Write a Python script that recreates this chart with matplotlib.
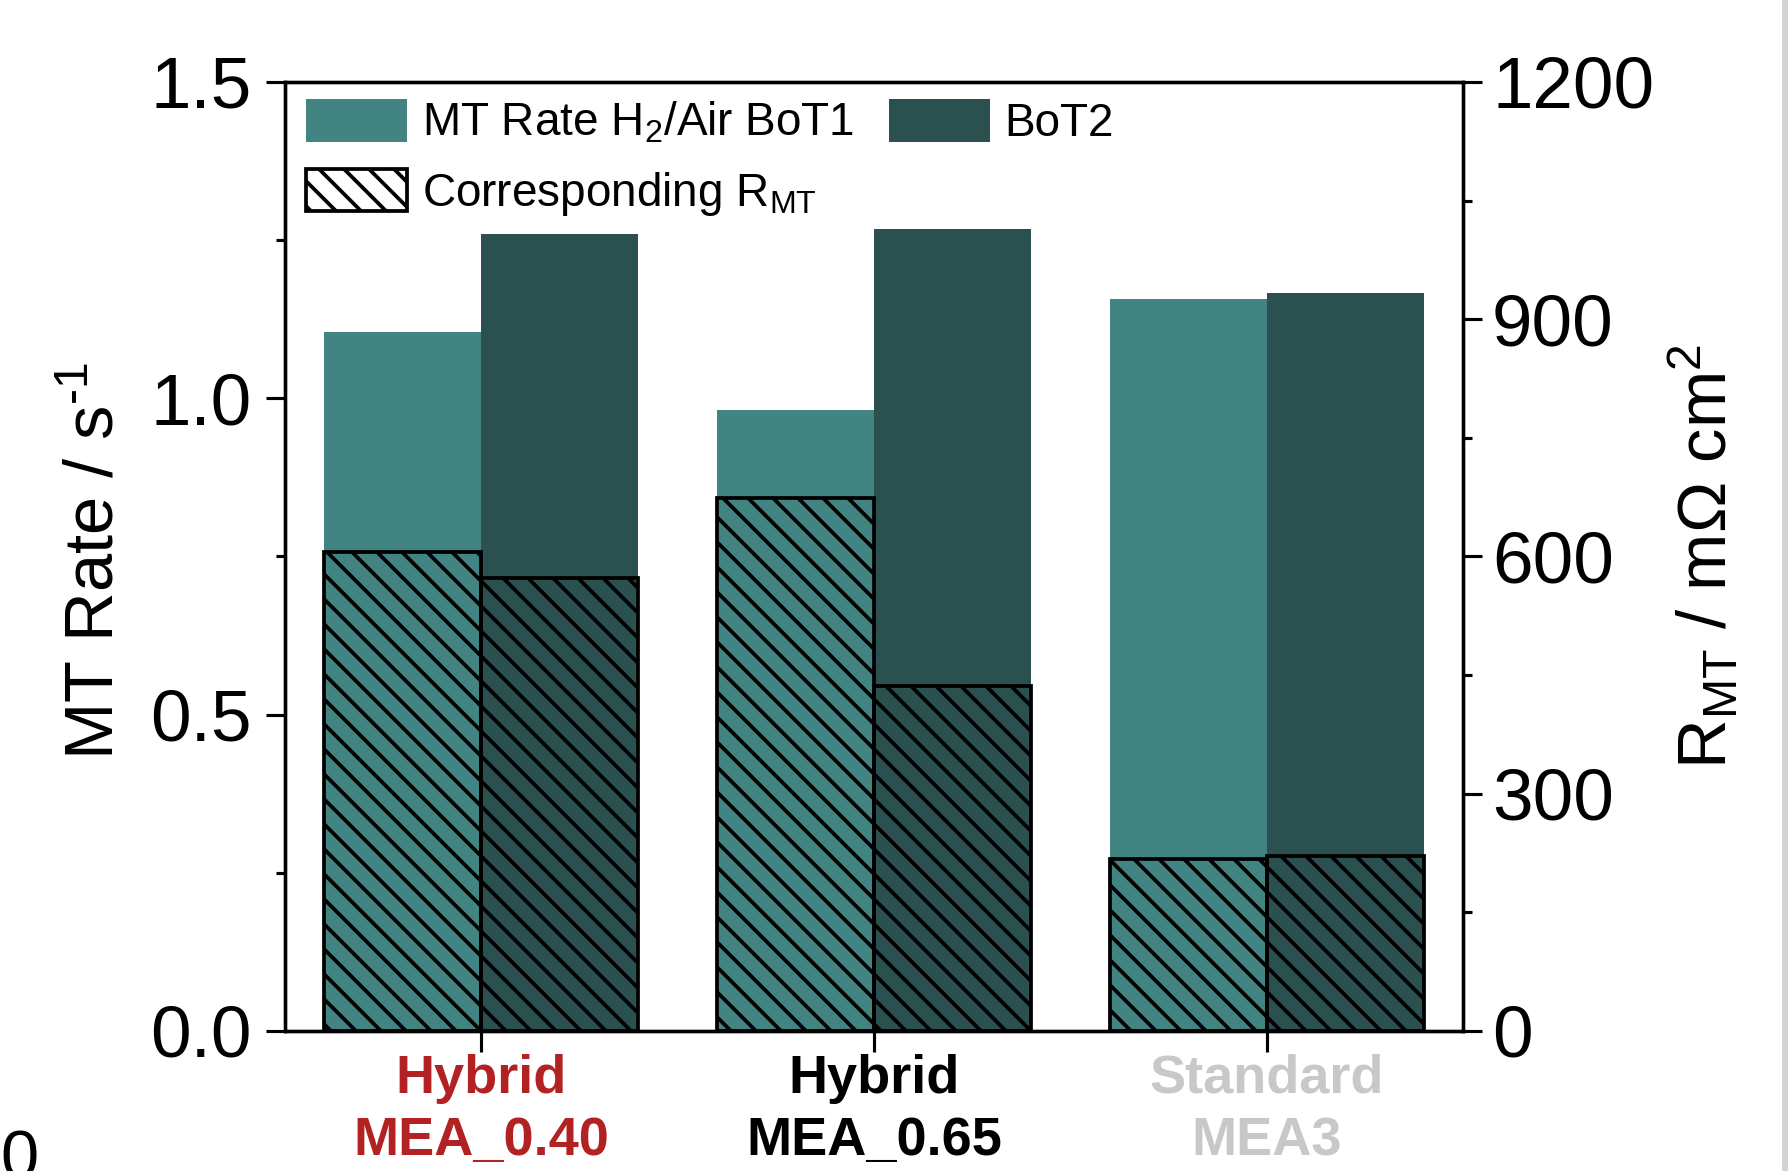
import matplotlib
matplotlib.use("Agg")
from matplotlib import pyplot as plt
from matplotlib.patches import Patch, Rectangle
from matplotlib.ticker import MultipleLocator

plt.rcParams['font.family'] = ['Liberation Sans', 'DejaVu Sans']
plt.rcParams['mathtext.fontset'] = 'custom'
plt.rcParams['mathtext.rm'] = 'Liberation Sans'
plt.rcParams['mathtext.it'] = 'Liberation Sans'
plt.rcParams['mathtext.default'] = 'regular'
plt.rcParams['hatch.linewidth'] = 1.8
plt.rcParams['hatch.color'] = 'black'

# samples and measured values
samples = ["Hybrid\nMEA_0.40", "Hybrid\nMEA_0.65", "Standard\nMEA3"]
sample_colors = ["#b22222", "black", "#c8c8c8"]
mt_rate_bot1 = [1.105, 0.982, 1.157]   # s^-1
mt_rate_bot2 = [1.260, 1.267, 1.166]   # s^-1
r_mt_bot1 = [606, 674, 218]            # mOhm cm^2
r_mt_bot2 = [573, 436, 221]            # mOhm cm^2

c_bot1 = "#428482"
c_bot2 = "#2a5150"
width = 0.4
hatch = '\\\\'

fig = plt.figure(figsize=(1788 / 150, 1171 / 150), dpi=150)
ax = fig.add_axes([0.1594, 0.1196, 0.6588, 0.8104])
ax2 = ax.twinx()

x = list(range(len(samples)))
x1 = [i - width / 2 for i in x]
x2 = [i + width / 2 for i in x]

ax.bar(x1, mt_rate_bot1, width, color=c_bot1, linewidth=0)
ax.bar(x2, mt_rate_bot2, width, color=c_bot2, linewidth=0)
ax2.bar(x1, r_mt_bot1, width, facecolor='none', edgecolor='black',
        hatch=hatch, linewidth=1.8)
ax2.bar(x2, r_mt_bot2, width, facecolor='none', edgecolor='black',
        hatch=hatch, linewidth=1.8)

ax.set_xlim(-0.5, 2.5)
ax.set_ylim(0, 1.5)
ax2.set_ylim(0, 1200)

ax.yaxis.set_major_locator(MultipleLocator(0.5))
ax.yaxis.set_minor_locator(MultipleLocator(0.25))
ax.yaxis.set_major_formatter(plt.FormatStrFormatter('%.1f'))
ax2.yaxis.set_major_locator(MultipleLocator(300))
ax2.yaxis.set_minor_locator(MultipleLocator(150))

ax.set_xticks(x)
ax.set_xticklabels(samples, fontsize=26, fontweight='bold', linespacing=1.32)
for lbl, col in zip(ax.get_xticklabels(), sample_colors):
    lbl.set_color(col)

for a in (ax, ax2):
    for s in a.spines.values():
        s.set_linewidth(1.6)
    a.tick_params(which='major', direction='out', length=9, width=1.5,
                  labelsize=35)
    a.tick_params(which='minor', direction='out', length=4.5, width=1.5)
ax.tick_params(axis='y', which='major', pad=7)
ax2.tick_params(axis='y', which='major', pad=5)
ax.tick_params(axis='x', which='major', length=10, pad=1, labelsize=26)
ax.tick_params(axis='y', which='both', right=False)

ax.set_ylabel("MT Rate / s$^{\u2010 1}$", fontsize=33, va='center')
ax.yaxis.set_label_coords(-0.161, 0.495)
ax2.set_ylabel("R$_{MT}$ / m\u03a9 cm$^2$", fontsize=33, va='center')
ax2.yaxis.set_label_coords(1.2054, 0.5)

handles = [
    Patch(facecolor=c_bot1, linewidth=0),
    Patch(facecolor='white', edgecolor='black', hatch=hatch, linewidth=1.8),
    Patch(facecolor=c_bot2, linewidth=0),
]
labels = ["MT Rate H$_2$/Air BoT1", "Corresponding R$_{MT}$", "BoT2"]
ax2.legend(handles, labels, ncol=2, loc='upper left',
           bbox_to_anchor=(0.018, 0.982), frameon=False, fontsize=22,
           borderaxespad=0, borderpad=0, handlelength=2.2, handleheight=1.05,
           handletextpad=0.33, columnspacing=0.75, labelspacing=0.5)

# panel label from the neighbouring figure and page edge
fig.text(0.0, 0.036, "0", fontsize=33, ha='left', va='top')
fig.patches.append(Rectangle((0.9966, 0), 0.0034, 1, transform=fig.transFigure,
                             facecolor='#d4d4d4', edgecolor='none'))

fig.savefig("out.png", dpi=150)
